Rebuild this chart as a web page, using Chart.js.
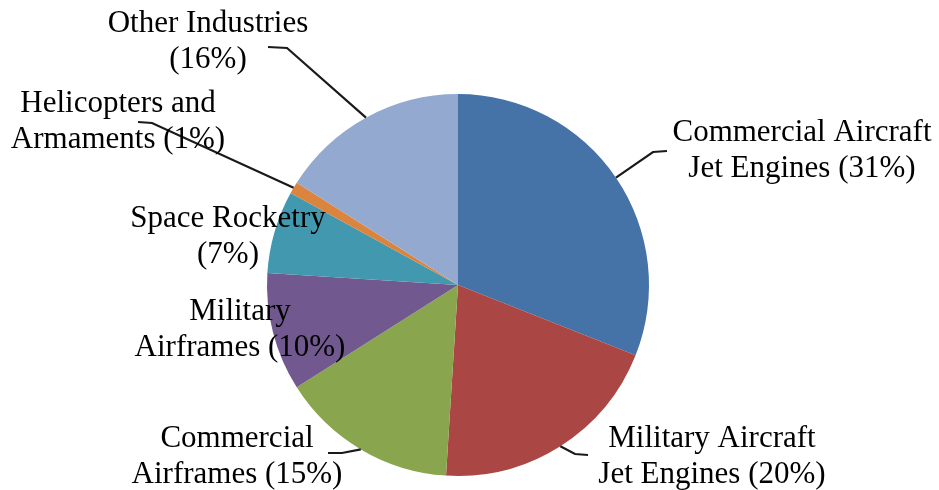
<!DOCTYPE html>
<html>
<head>
<meta charset="utf-8">
<script src="https://cdn.jsdelivr.net/npm/chart.js@4"></script>
<style>
  html, body { margin: 0; padding: 0; background: #fff; }
  canvas { display: block; }
</style>
</head>
<body>
<canvas id="pie" width="939" height="490"></canvas>
<script>
// Dados
const categorias = [
  "Commercial Aircraft Jet Engines",
  "Military Aircraft Jet Engines",
  "Commercial Airframes",
  "Military Airframes",
  "Space Rocketry",
  "Helicopters and Armaments",
  "Other Industries"
];
const percentuais = [31, 20, 15, 10, 7, 1, 16];
// rótulos em duas linhas (a segunda recebe o percentual)
const linha1 = ["Commercial Aircraft", "Military Aircraft", "Commercial", "Military", "Space Rocketry", "Helicopters and", "Other Industries"];
const linha2 = ["Jet Engines ", "Jet Engines ", "Airframes ", "Airframes ", "", "Armaments ", ""];

const cores = ["#4572A7", "#AA4643", "#89A54E", "#71588F", "#4198AF", "#DB843D", "#93A9CF"];

// posição dos rótulos (centro x, baseline da 1a linha) e linhas de chamada
const posRotulos = [
  { x: 802, y: 141, cotovelo: [653, 152], fim: [667, 151] },
  { x: 712, y: 447, cotovelo: [575, 454], fim: [588, 455] },
  { x: 237, y: 447, cotovelo: [342, 453], fim: [328, 453] },
  { x: 240, y: 320 },
  { x: 228, y: 227 },
  { x: 118, y: 112, cotovelo: [152, 123], fim: [138, 122] },
  { x: 208, y: 32, cotovelo: [287, 48], fim: [268, 47] }
];

const rotulosPlugin = {
  id: "rotulos",
  afterDatasetsDraw(chart) {
    const ctx = chart.ctx;
    const arcs = chart.getDatasetMeta(0).data;
    ctx.save();
    // linhas de chamada
    ctx.strokeStyle = "#1a1a1a";
    ctx.lineWidth = 2.2;
    arcs.forEach((arc, i) => {
      const p = posRotulos[i];
      if (!p.cotovelo) return;
      const meio = (arc.startAngle + arc.endAngle) / 2;
      const bx = arc.x + Math.cos(meio) * arc.outerRadius;
      const by = arc.y + Math.sin(meio) * arc.outerRadius;
      ctx.beginPath();
      ctx.moveTo(bx, by);
      ctx.lineTo(p.cotovelo[0], p.cotovelo[1]);
      ctx.lineTo(p.fim[0], p.fim[1]);
      ctx.stroke();
    });
    // textos
    ctx.fillStyle = "#000";
    ctx.font = "31px 'Liberation Serif', 'Times New Roman', serif";
    ctx.textAlign = "center";
    ctx.textBaseline = "alphabetic";
    arcs.forEach((arc, i) => {
      const p = posRotulos[i];
      ctx.fillText(linha1[i], p.x, p.y);
      ctx.fillText(linha2[i] + "(" + percentuais[i] + "%)", p.x, p.y + 36);
    });
    ctx.restore();
  }
};

new Chart(document.getElementById("pie").getContext("2d"), {
  type: "pie",
  data: {
    labels: categorias,
    datasets: [{
      data: percentuais,
      backgroundColor: cores,
      borderWidth: 0
    }]
  },
  options: {
    responsive: false,
    animation: false,
    layout: { padding: { top: 94, bottom: 14, left: 267, right: 290 } },
    plugins: {
      legend: { display: false },
      tooltip: { enabled: false }
    }
  },
  plugins: [rotulosPlugin]
});
</script>
</body>
</html>
